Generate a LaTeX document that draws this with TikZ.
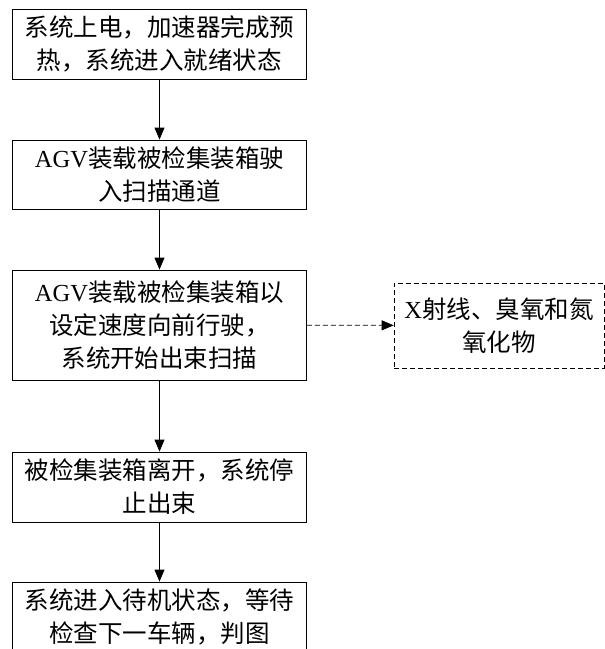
\documentclass[tikz,border=0pt]{standalone}
\usepackage{fontspec}
\setmainfont{Liberation Serif}
\newfontfamily\cjk{Noto Sans CJK SC}
\usetikzlibrary{arrows.meta}
\newcommand{\lat}[1]{{\rmfamily #1}}
\tikzset{
  stepbox/.style={draw, line width=0.8pt, minimum width=294pt, inner sep=0pt,
    align=center, font=\fontsize{24.5}{33}\selectfont\cjk},
  sidebox/.style={draw, dash pattern=on 5pt off 3pt, line width=0.7pt, minimum width=210pt, minimum height=85pt,
    inner sep=0pt, align=center, font=\fontsize{24.5}{33}\selectfont\cjk},
  flow/.style={line width=0.8pt, -{Triangle[length=12pt,width=10pt]}},
  dflow/.style={line width=0.7pt, dash pattern=on 5pt off 3pt, -{Triangle[length=12pt,width=10pt]}}
}
\begin{document}
\begin{tikzpicture}[x=1pt,y=-1pt]
\useasboundingbox (0,0) rectangle (605,649);
\clip (0,0) rectangle (605,649);
\fill[white] (0,0) rectangle (605,649);
\node[stepbox, minimum height=70pt] (b1) at (159.5,44) {系统上电，加速器完成预\\热，系统进入就绪状态};
\node[stepbox, minimum height=69pt] (b2) at (159.5,174.5) {\lat{AGV}装载被检集装箱驶\\入扫描通道};
\node[stepbox, minimum height=110pt] (b3) at (159.5,325) {\lat{AGV}装载被检集装箱以\\设定速度向前行驶，\\系统开始出束扫描};
\node[sidebox] (x1) at (499,325.5) {\lat{X}射线、臭氧和氮\\氧化物};
\node[stepbox, minimum height=70pt] (b4) at (159.5,487) {被检集装箱离开，系统停\\止出束};
\node[stepbox, minimum height=70pt] (b5) at (159.5,617) {系统进入待机状态，等待\\检查下一车辆，判图};
\draw[flow] (b1) -- (b2);
\draw[flow] (b2) -- (b3);
\draw[flow] (b3) -- (b4);
\draw[flow] (b4) -- (b5);
\draw[dflow] (b3) -- (x1);
\end{tikzpicture}
\end{document}
